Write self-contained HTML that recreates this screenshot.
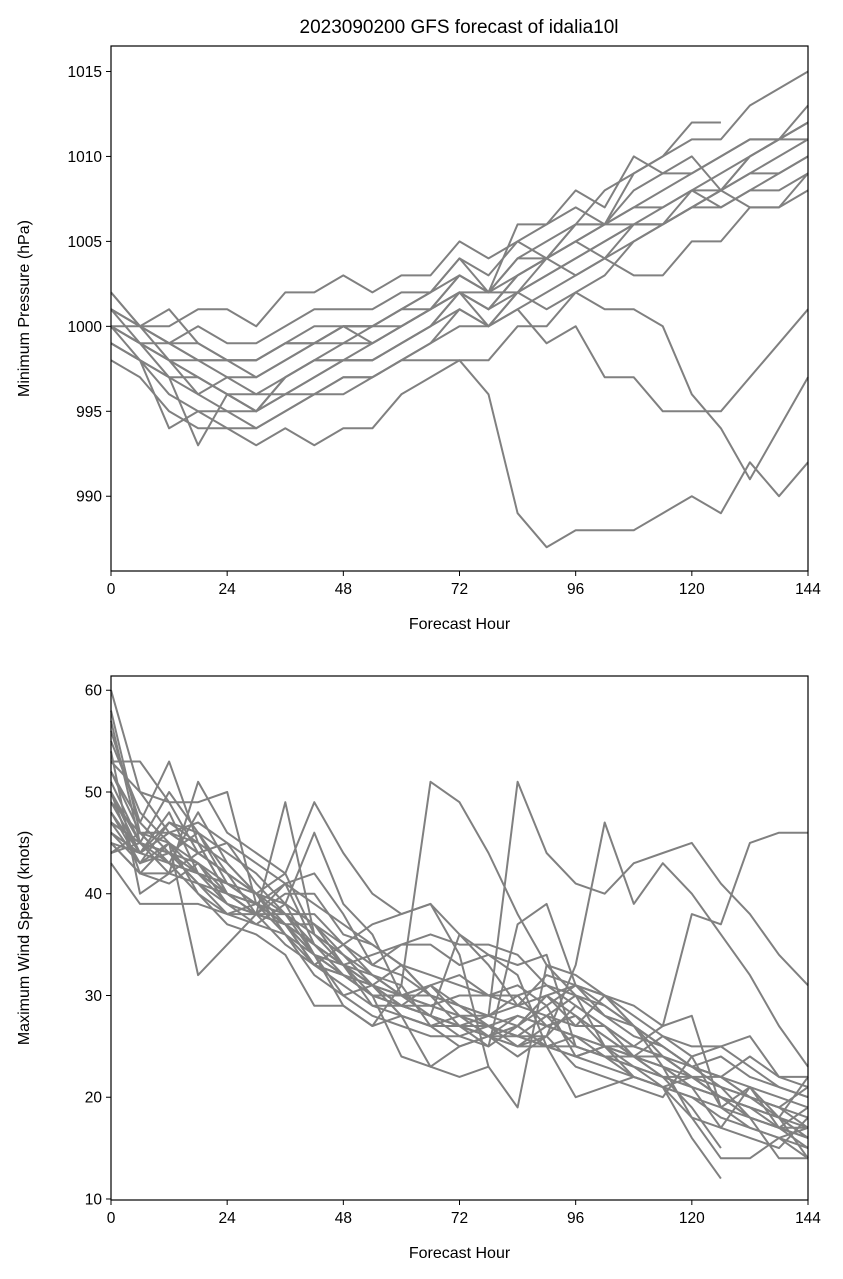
<!DOCTYPE html>
<html><head><meta charset="utf-8">
<style>
body{margin:0;background:#fff;}
svg{display:block;font-family:"Liberation Sans","DejaVu Sans",sans-serif;}
</style></head>
<body>
<svg id="chart" width="843" height="1279" viewBox="0 0 843 1279" xmlns="http://www.w3.org/2000/svg"></svg>
<script>
const hours = [0,6,12,18,24,30,36,42,48,54,60,66,72,78,84,90,96,102,108,114,120,126,132,138,144];
const xTicks = [0,24,48,72,96,120,144];
const presTicks = [990,995,1000,1005,1010,1015];
const windTicks = [10,20,30,40,50,60];
const presSeries = [
 [1002,1000,998,997,996,995,996,997,998,998,999,1000,1002,1001,1003,1004,1005,1006,1007,1008,1009,1010,1011,1011,1012],
 [1001,999,998,996,995,994,995,996,997,997,998,999,1001,1000,1002,1003,1004,1005,1006,1007,1008,1009,1010,1011,1013],
 [1000,998,996,995,994,994,995,996,996,997,998,999,1000,1000,1001,1002,1003,1004,1005,1006,1007,1008,1009,1010,1011],
 [999,998,994,995,995,995,997,998,998,999,1000,1001,1002,1001,1003,1004,1006,1006,1009,1010,1012,1012,null,null,null],
 [1000,999,998,998,997,996,997,998,999,999,1000,1001,1003,1002,1004,1005,1006,1008,1009,1010,1011,1011,1013,1014,1015],
 [1001,1000,999,998,998,997,998,999,999,1000,1001,1002,1004,1003,1005,1006,1008,1007,1010,1009,1010,1008,1010,1011,1012],
 [1000,999,997,993,996,995,997,998,998,998,999,1000,1002,1001,1002,1004,1005,1004,1006,1006,1008,1008,1009,1009,1010],
 [999,998,997,996,997,997,998,999,1000,1000,1001,1002,1003,1002,1004,1004,1006,1006,1007,1007,1008,1007,1008,1009,1010],
 [998,997,995,994,994,993,994,993,994,994,996,997,998,998,1000,1000,1002,1003,1005,1006,1007,1007,1008,1008,1009],
 [1001,1000,1001,999,998,998,999,999,1000,1000,1001,1001,1003,1002,1003,1004,1005,1006,1006,1006,1007,1008,1007,1007,1008],
 [1002,1000,1000,1001,1001,1000,1002,1002,1003,1002,1003,1003,1005,1004,1005,1004,1003,1004,1003,1003,1005,1005,1007,1007,1009],
 [1000,999,999,1000,999,999,1000,1001,1001,1001,1002,1002,1004,1002,1006,1006,1007,1006,1008,1009,1009,1010,1011,1011,1011],
 [1000,999,998,997,996,996,996,996,997,997,998,998,998,996,989,987,988,988,988,989,990,989,992,990,992],
 [999,998,997,997,996,995,996,997,998,998,999,1000,1001,1000,1001,999,1000,997,997,995,995,995,997,999,1001],
 [1001,1000,999,999,998,998,999,1000,1000,999,1000,1001,1002,1002,1002,1001,1002,1001,1001,1000,996,994,991,994,997],
 [1000,1000,999,998,998,998,999,999,1000,1000,1000,1001,1002,1000,1002,1003,1004,1005,1006,1006,1007,1008,1010,1011,1012]
];
const windSeries = [
 [60,50,46,44,42,40,38,35,32,30,29,28,27,26,27,25,25,24,23,22,21,20,19,18,17],
 [55,48,45,43,41,39,38,34,32,31,30,29,28,27,28,27,26,24,24,22,22,21,20,19,18],
 [52,47,53,45,40,38,49,36,33,31,29,28,27,26,26,28,30,25,23,21,20,19,18,17,15],
 [50,42,41,43,40,39,37,35,33,32,31,51,49,44,38,33,30,29,27,25,23,22,21,20,19],
 [48,44,46,44,42,38,40,40,36,35,33,30,29,28,51,44,41,40,43,44,45,41,38,34,31],
 [47,45,44,42,41,39,37,33,32,30,29,28,26,27,26,26,33,47,39,43,40,36,32,27,23],
 [46,43,47,45,43,40,39,37,34,32,30,28,27,27,26,28,27,30,29,27,38,37,45,46,46],
 [53,53,49,49,50,39,41,35,33,31,28,27,27,25,27,30,31,29,27,25,23,22,20,19,17],
 [45,42,42,51,46,44,42,49,44,40,38,39,36,34,33,34,25,24,23,22,21,20,19,18,16],
 [44,46,45,32,35,38,41,42,38,33,35,35,33,34,32,25,20,21,22,21,22,22,24,22,22],
 [58,46,43,40,38,37,39,46,39,36,30,29,28,27,26,25,24,23,22,21,20,18,17,16,15],
 [43,39,39,39,38,38,37,33,31,29,28,27,25,26,25,26,23,22,21,20,24,25,23,21,20],
 [49,44,43,48,43,40,39,34,33,31,29,31,32,30,31,29,31,28,27,25,23,21,18,17,16],
 [51,45,50,46,44,42,39,37,35,32,30,30,29,28,29,32,31,30,28,26,25,25,26,22,21],
 [54,40,42,44,45,41,38,36,34,31,33,30,29,27,25,25,24,25,25,27,28,19,17,16,17],
 [46,44,46,47,45,43,41,39,37,35,33,32,31,30,29,28,25,24,22,21,16,12,null,null,null],
 [47,43,44,46,41,39,36,34,30,31,28,27,28,26,28,27,26,25,24,24,22,20,18,14,14],
 [50,44,47,46,42,40,37,34,32,30,30,31,29,27,26,25,26,25,24,23,18,17,21,18,14],
 [45,42,45,42,39,38,35,33,32,30,24,23,22,23,19,33,32,30,27,23,21,17,16,15,18],
 [56,47,44,43,39,37,36,32,30,28,27,26,26,25,37,39,31,30,27,24,22,20,18,17,17],
 [52,46,46,45,40,38,38,38,35,33,32,30,27,28,30,31,29,27,24,26,24,19,21,17,16],
 [48,43,45,40,37,36,34,29,29,27,31,27,27,26,24,26,29,27,25,24,23,22,20,18,22],
 [57,45,42,41,39,38,37,37,33,29,29,28,27,26,25,27,28,26,24,23,22,20,19,17,19],
 [44,45,43,42,40,39,37,34,32,31,29,29,30,30,30,27,28,26,24,22,19,15,null,null,null],
 [50,45,44,41,40,38,37,34,29,27,28,23,25,26,27,29,24,25,22,21,18,14,14,16,14],
 [53,50,49,44,42,40,42,36,34,31,30,31,28,28,27,30,27,27,25,24,22,21,20,19,21],
 [47,45,44,41,38,39,37,35,33,34,35,36,35,35,34,31,30,28,26,25,23,24,22,21,20],
 [45,44,48,42,40,38,37,35,33,30,29,28,36,33,29,30,28,25,24,23,21,20,19,18,16],
 [49,46,43,42,41,40,36,33,35,37,38,39,34,23,null,null,null,null,null,null,null,null,null,null,null]
];
const NS="http://www.w3.org/2000/svg";
const svg=document.getElementById('chart');
function mk(tag,attrs,parent){const e=document.createElementNS(NS,tag);for(const k in attrs)e.setAttribute(k,attrs[k]);(parent||svg).appendChild(e);return e;}
function panel(cfg){
  const {left,right,top,bottom,ymin,ymax,ticks,series,ylabel,name}=cfg;
  const g=mk('g',{});
  
  
  const xs=h=>left+(h-0)/144*(right-left);
  const ys=v=>bottom-(v-ymin)/(ymax-ymin)*(bottom-top);
  series.forEach((s,i)=>{
    let d='';let pen=false;
    s.forEach((v,j)=>{if(v===null){pen=false;return;}d+=(pen?'L':'M')+xs(hours[j]).toFixed(1)+','+ys(v).toFixed(1);pen=true;});
    const p=mk('path',{d:d,fill:'none',stroke:'#808080','stroke-width':2,'stroke-linejoin':'round'},g);
    
    
  });
  const fr=mk('rect',{x:left,y:top,width:right-left,height:bottom-top,fill:'none',stroke:'#000','stroke-width':1.2},g);
  
  
  xTicks.forEach(t=>{
    mk('line',{x1:xs(t),x2:xs(t),y1:bottom,y2:bottom+5,stroke:'#000','stroke-width':1},g);
    const tx=mk('text',{x:xs(t),y:bottom+23,'text-anchor':'middle','font-size':15.5},g);tx.textContent=t;
    
    
  });
  ticks.forEach(t=>{
    mk('line',{x1:left-5,x2:left,y1:ys(t),y2:ys(t),stroke:'#000','stroke-width':1},g);
    const tx=mk('text',{x:left-9,y:ys(t)+5.5,'text-anchor':'end','font-size':15.5},g);tx.textContent=t;
    
    
  });
  const xl=mk('text',{x:(left+right)/2,y:bottom+58,'text-anchor':'middle','font-size':16},g);xl.textContent='Forecast Hour';
  
  
  const cy=(top+bottom)/2;
  const yl=mk('text',{x:29,y:cy,'text-anchor':'middle','font-size':16,transform:'rotate(-90 29 '+cy+')'},g);yl.textContent=ylabel;
  
  
}
const title=mk('text',{x:459,y:33,'text-anchor':'middle','font-size':19});
title.textContent='2023090200 GFS forecast of idalia10l';


panel({left:111,right:808,top:46,bottom:571,ymin:985.6,ymax:1016.5,ticks:presTicks,series:presSeries,ylabel:'Minimum Pressure (hPa)',name:'pressure-panel'});
panel({left:111,right:808,top:676,bottom:1200,ymin:9.9,ymax:61.4,ticks:windTicks,series:windSeries,ylabel:'Maximum Wind Speed (knots)',name:'wind-panel'});
</script>
</body></html>
